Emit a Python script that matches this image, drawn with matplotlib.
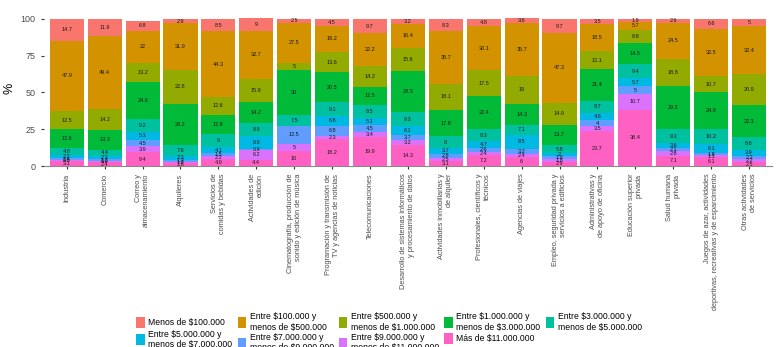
import numpy as np
import matplotlib.pyplot as plt

plt.rcParams["font.family"] = ["Liberation Sans", "DejaVu Sans"]

sectores = [
    "Industria",
    "Comercio",
    "Correo y\nalmacenamiento",
    "Alquileres",
    "Servicios de\ncomidas y bebidas",
    "Actividades de\nedición",
    "Cinematografía, producción de\nsonido y edición de música",
    "Programación y transmisión de\nTV y agencias de noticias",
    "Telecomunicaciones",
    "Desarrollo de sistemas informáticos\ny procesamiento de datos",
    "Actividades inmobiliarias y\nde alquiler",
    "Profesionales, científicos y\ntécnicos",
    "Agencias de viajes",
    "Empleo, seguridad privada y\nservicios a edificios",
    "Administrativas y\nde apoyo de oficina",
    "Educación superior\nprivada",
    "Salud humana\nprivada",
    "Juegos de azar, actividades\ndeportivas, recreativas y de esparcimiento",
    "Otras actividades\nde servicios",
]

tramos = [
    "Menos de $100.000",
    "Entre $100.000 y\nmenos de $500.000",
    "Entre $500.000 y\nmenos de $1.000.000",
    "Entre $1.000.000 y\nmenos de $3.000.000",
    "Entre $3.000.000 y\nmenos de $5.000.000",
    "Entre $5.000.000 y\nmenos de $7.000.000",
    "Entre $7.000.000 y\nmenos de $9.000.000",
    "Entre $9.000.000 y\nmenos de $11.000.000",
    "Más de $11.000.000",
]

colores = ["#F8766D", "#D39200", "#93AA00", "#00BA38", "#00C19F",
           "#00B9E3", "#619CFF", "#DB72FB", "#FF61C3"]

# one list per tramo, same order as sectores
menos_100k = [14.7, 11.9, 6.8, 2.9, 8.5, 9, 2.5, 4.5, 9.7, 3.2, 8.3, 4.8, 3.6, 9.7, 3.5, 1.9, 2.6, 6.6, 5]
de_100k_500k = [47.9, 49.4, 22, 31.9, 44.3, 32.7, 27.5, 18.2, 22.2, 16.4, 35.7, 30.1, 35.7, 47.3, 18.5, 5.7, 24.5, 32.5, 32.4]
de_500k_1m = [12.5, 14.2, 13.2, 22.8, 12.6, 15.9, 5, 13.6, 14.2, 15.6, 18.1, 17.5, 19, 14.9, 12.1, 8.8, 18.8, 10.7, 20.9]
de_1m_3m = [12.6, 13.3, 24.6, 28.2, 12.9, 14.2, 30, 20.5, 12.5, 28.3, 17.8, 22.4, 14.3, 13.7, 21.4, 14.5, 29.2, 24.9, 22.3]
de_3m_5m = [4.8, 4.4, 9.2, 7.6, 9, 8.8, 7.5, 9.1, 8.5, 9.3, 8, 8.3, 7.1, 5.8, 8.7, 9.4, 9.3, 10.2, 8.6]
de_5m_7m = [2.2, 2.3, 5.3, 2.3, 4.1, 8.8, 0, 6.8, 5.1, 6.1, 3.7, 4.7, 9.5, 2, 4.6, 5.7, 3.6, 6.1, 3.9]
de_7m_9m = [1.4, 1.2, 4.5, 1.3, 1.5, 0.9, 12.5, 6.8, 4.5, 3.7, 2.8, 2.6, 3.2, 1.9, 4, 5, 2.1, 1.8, 2.2]
de_9m_11m = [0.8, 0.9, 3.9, 1.2, 2.2, 6.2, 5, 2.3, 3.4, 3.2, 2.5, 2.4, 2.4, 1.8, 3.5, 10.7, 2.8, 1.1, 2.2]
mas_11m = [3.1, 2.4, 9.4, 1.8, 4.9, 4.4, 10, 18.2, 19.9, 14.3, 3.1, 7.2, 6, 2.9, 23.7, 38.4, 7.1, 6.1, 2.5]

series = [menos_100k, de_100k_500k, de_500k_1m, de_1m_3m, de_3m_5m,
          de_5m_7m, de_7m_9m, de_9m_11m, mas_11m]

fig = plt.figure(figsize=(7.78, 3.47), dpi=100)
ax = fig.add_axes([0.0566, 0.5216, 0.9354, 0.445])

x = np.arange(len(sectores))
bottom = np.zeros(len(sectores))
handles = []
# stack from the bottom: highest tramo first
for i in range(len(series) - 1, -1, -1):
    vals = np.array(series[i], dtype=float)
    b = ax.bar(x, vals, 0.9, bottom=bottom, color=colores[i], linewidth=0)
    handles.insert(0, b)
    for xi, v, bt in zip(x, vals, bottom):
        if v > 0:
            ax.text(xi, bt + v / 2, f"{v:g}", ha="center", va="center",
                    fontsize=4, color="#1a1a1a")
    bottom += vals

ax.set_xlim(-0.6, len(sectores) - 0.4)
ax.set_ylim(0, 105)
ax.set_yticks([0, 25, 50, 75, 100])
ax.set_xticks(x)
ax.set_xticklabels(sectores, rotation=90, ha="center", va="top",
                   multialignment="right", fontsize=5.3, color="#4d4d4d")
ax.tick_params(axis="y", labelsize=6.5, labelcolor="#4d4d4d", color="#333333", length=2.5)
ax.tick_params(axis="x", color="#333333", length=2.5, pad=3)
ax.set_ylabel("%", fontsize=9, labelpad=4)
for s in ["top", "right", "left"]:
    ax.spines[s].set_visible(False)
ax.spines["bottom"].set_color("#888888")

order = [0, 5, 1, 6, 2, 7, 3, 8, 4]
fig.legend([handles[k] for k in order],
           [tramos[k].replace("$", r"\$") for k in order],
           ncol=5, loc="upper center", bbox_to_anchor=(0.5, 0.10),
           frameon=False, fontsize=6.2, handlelength=1.0, handleheight=1.6,
           handletextpad=0.4, columnspacing=0.6, labelspacing=0.15,
           borderaxespad=0, borderpad=0)

fig.savefig("out.png", dpi=100)
